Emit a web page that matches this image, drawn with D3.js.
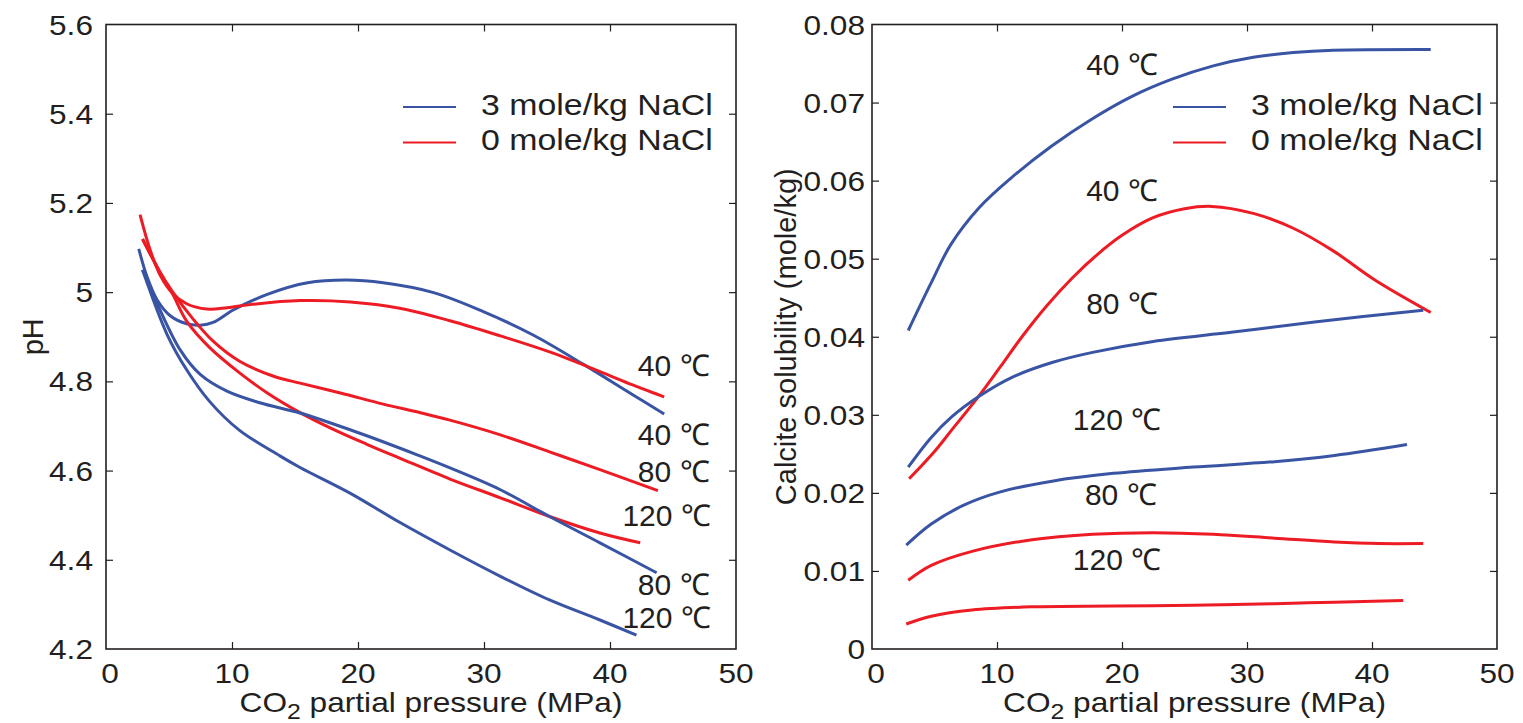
<!DOCTYPE html>
<html>
<head>
<meta charset="utf-8">
<script src="https://cdn.jsdelivr.net/npm/d3@7"></script>
<style>
  body { margin: 0; background: #fff; }
  text { font-family: "Liberation Sans", Arial, Helvetica, sans-serif; fill: #231f20; }
</style>
</head>
<body>
<div id="vis"></div>
<script>
// ---- data: [CO2 pressure (MPa), value] ----
// left panel: pH
const phBlue40 = [[2.6,5.097],[3.25,5.035],[4.05,4.983],[5.1,4.947],[6.4,4.929],[7.5,4.926],[8.5,4.932],[10.1,4.96],[12.8,4.995],[16,5.021],[19.1,5.027],[22,5.021],[26,4.999],[29.9,4.957],[33.9,4.904],[37.9,4.838],[41.8,4.77],[44.3,4.727]];
const phRed40 = [[2.7,5.174],[3.5,5.095],[4.3,5.038],[5.3,4.997],[6.4,4.974],[8,4.962],[9.6,4.965],[11.4,4.972],[15.4,4.981],[19.4,4.978],[23.3,4.964],[27.3,4.936],[31.3,4.902],[35.2,4.866],[39.2,4.822],[41.8,4.792],[44.3,4.765]];
const phRed80 = [[2.9,5.119],[4.3,5.044],[5.3,5.0],[6.9,4.94],[8.5,4.89],[10.6,4.845],[13.25,4.812],[15.4,4.796],[18.6,4.774],[22,4.749],[24.9,4.73],[27.3,4.713],[31.3,4.68],[35.2,4.642],[39.2,4.602],[43.8,4.555]];
const phRed120 = [[2.9,5.119],[4.3,5.044],[5.3,4.995],[6.4,4.935],[8.25,4.875],[10.6,4.819],[12.8,4.774],[15.4,4.73],[18,4.693],[20.7,4.659],[23.3,4.628],[27.3,4.581],[31.3,4.539],[35.2,4.497],[39.2,4.46],[42.4,4.438]];
const phBlue80 = [[2.9,5.05],[4.05,4.975],[5.9,4.87],[7.5,4.815],[9.6,4.778],[12.2,4.752],[15.4,4.729],[18,4.705],[20.7,4.678],[24.9,4.633],[27.3,4.606],[31.3,4.557],[35.2,4.497],[39.2,4.438],[43.7,4.371]];
const phBlue120 = [[2.9,5.05],[4.85,4.905],[6.4,4.826],[8.25,4.754],[10.6,4.69],[13.8,4.633],[15.4,4.607],[19.4,4.549],[23.3,4.484],[27.3,4.422],[31.3,4.363],[35.2,4.31],[39.2,4.265],[42.1,4.231]];

// right panel: calcite solubility (mole/kg)
const solBlue40 = [[2.9,0.0408],[4.7,0.0468],[6.3,0.0518],[8.55,0.0565],[11.1,0.0603],[14.35,0.0644],[17.6,0.0679],[20.8,0.0708],[24,0.073],[27.3,0.0747],[30.5,0.0758],[33.7,0.0764],[36.9,0.0767],[44.7,0.0768]];
const solRed40 = [[2.97,0.0218],[5,0.0253],[6.35,0.028],[8.45,0.0322],[10.2,0.036],[12,0.04],[14,0.044],[16,0.0475],[18,0.0505],[20,0.053],[22.4,0.0552],[25,0.0564],[27.2,0.0567],[30.5,0.0558],[33.7,0.0539],[36.9,0.051],[40.2,0.0473],[44.7,0.0431]];
const solBlue80 = [[2.9,0.0233],[4.74,0.0271],[6.35,0.0297],[8.6,0.0324],[11.2,0.0348],[14.4,0.0367],[17.65,0.038],[22.5,0.0394],[28.9,0.0406],[35.4,0.0419],[44.1,0.0434]];
const solBlue120 = [[2.74,0.0133],[4.74,0.016],[7.3,0.0184],[10.2,0.0201],[14.4,0.0215],[19.3,0.0225],[25.7,0.0233],[32.2,0.024],[37,0.0248],[42.8,0.0262]];
const solRed80 = [[2.9,0.0088],[4.74,0.0107],[8,0.0125],[12.8,0.014],[17.65,0.0147],[22.5,0.0149],[27.3,0.0147],[32.2,0.0142],[37,0.0137],[40.5,0.0135],[44.1,0.0135]];
const solRed120 = [[2.74,0.0032],[4.74,0.0042],[8,0.005],[12.8,0.0054],[19.3,0.0055],[25.7,0.0056],[32.2,0.0058],[37,0.006],[42.5,0.0062]];

const xTicks = [0, 10, 20, 30, 40, 50];
const phTicks = [4.2, 4.4, 4.6, 4.8, 5, 5.2, 5.4, 5.6];
const solTicks = [0, 0.01, 0.02, 0.03, 0.04, 0.05, 0.06, 0.07, 0.08];
const legendLabels = ["3 mole/kg NaCl", "0 mole/kg NaCl"];

// temperature labels: [text, pressure, value]
const phLabels = [["40 ℃",47.9,4.8125],["40 ℃",47.9,4.6577],["80 ℃",47.9,4.5747],["120 ℃",48,4.476],["80 ℃",47.9,4.32],["120 ℃",48,4.2475]];
const solLabels = [["40 ℃",20,0.0735],["40 ℃",20,0.0574],["80 ℃",20,0.0429],["120 ℃",19.6,0.028],["80 ℃",19.9,0.01845],["120 ℃",19.6,0.0101]];

const BLUE = "#3a54a4", RED = "#ed1c24", INK = "#231f20";
const STRETCH = 1.13; // the figure's lettering is a little wider than Helvetica

const svg = d3.select("#vis").append("svg")
  .attr("width", 1523)
  .attr("height", 723);

// place a text with a small horizontal stretch
const at = (x, y) => `translate(${x},${y}) scale(${STRETCH},1)`;

function panel(opts) {
  const { left, right, top, bottom } = opts;
  const x = d3.scaleLinear().domain([0, 50]).range([left, right]);
  const y = d3.scaleLinear().domain(opts.yDomain).range([bottom, top]);
  const g = svg.append("g");

  // inward ticks on all four sides
  const tk = 7;
  g.append("g").attr("transform", `translate(0,${bottom})`)
    .call(d3.axisBottom(x).tickValues(xTicks.slice(1, -1)).tickSizeInner(-tk).tickSizeOuter(0).tickFormat(""));
  g.append("g").attr("transform", `translate(0,${top})`)
    .call(d3.axisTop(x).tickValues(xTicks.slice(1, -1)).tickSizeInner(-tk).tickSizeOuter(0).tickFormat(""));
  g.append("g").attr("transform", `translate(${left},0)`)
    .call(d3.axisLeft(y).tickValues(opts.yTicks.slice(1, -1)).tickSizeInner(-tk).tickSizeOuter(0).tickFormat(""));
  g.append("g").attr("transform", `translate(${right},0)`)
    .call(d3.axisRight(y).tickValues(opts.yTicks.slice(1, -1)).tickSizeInner(-tk).tickSizeOuter(0).tickFormat(""));
  g.selectAll(".domain").remove();
  g.selectAll(".tick line").attr("stroke", INK).attr("stroke-width", 1.2);

  g.append("rect")
    .attr("x", left).attr("y", top)
    .attr("width", right - left).attr("height", bottom - top)
    .attr("fill", "none").attr("stroke", INK).attr("stroke-width", 1.6);

  // tick labels
  g.selectAll(".xl").data(xTicks).join("text")
    .attr("transform", d => at(x(d) + (d === 0 ? 4 : 0), bottom + 34))
    .attr("text-anchor", "middle")
    .attr("font-size", 28)
    .text(d => d);
  g.selectAll(".yl").data(opts.yTicks).join("text")
    .attr("transform", d => at(left - opts.yLabelGap, y(d) + 10))
    .attr("text-anchor", "end")
    .attr("font-size", 28)
    .text(d => d === 0 ? "0" : (d === 5 ? "5" : opts.fmt(d)));

  // axis titles
  const xt = g.append("text")
    .attr("transform", at((left + right) / 2 + 10, bottom + 63))
    .attr("text-anchor", "middle")
    .attr("font-size", 28);
  xt.append("tspan").text("CO");
  xt.append("tspan").attr("font-size", 22).attr("dy", 7).text("2");
  xt.append("tspan").attr("dy", -7).text(" partial pressure (MPa)");

  g.append("text")
    .attr("transform", `translate(${opts.yTitleX},${(top + bottom) / 2}) rotate(-90)`)
    .attr("text-anchor", "middle")
    .attr("font-size", 29)
    .text(opts.yTitle);

  // curves
  const line = d3.line()
    .x(d => x(d[0]))
    .y(d => y(d[1]))
    .curve(d3.curveCatmullRom.alpha(0.5));
  g.selectAll(".curve").data(opts.series).join("path")
    .attr("fill", "none")
    .attr("stroke", d => d.color)
    .attr("stroke-width", 3)
    .attr("d", d => line(d.values));

  // temperature labels
  g.selectAll(".tl").data(opts.labels).join("text")
    .attr("x", d => x(d[1]))
    .attr("y", d => y(d[2]))
    .attr("text-anchor", opts.labelAnchor)
    .attr("font-size", 30)
    .text(d => d[0]);

  // legend
  const lg = g.append("g");
  [BLUE, RED].forEach((c, i) => {
    const ly = opts.legendY + i * 35.5;
    lg.append("line")
      .attr("x1", opts.legendX).attr("x2", opts.legendX + 53)
      .attr("y1", ly).attr("y2", ly)
      .attr("stroke", c).attr("stroke-width", 2.2);
    lg.append("text")
      .attr("transform", at(opts.legendX + 78, ly + 7.5))
      .attr("font-size", 30)
      .text(legendLabels[i]);
  });
}

panel({
  left: 106, right: 736, top: 24.5, bottom: 649,
  yDomain: [4.2, 5.6], yTicks: phTicks, fmt: d3.format(".1f"), yLabelGap: 13,
  yTitle: "pH", yTitleX: 43,
  series: [
    { color: BLUE, values: phBlue40 }, { color: RED, values: phRed40 },
    { color: RED, values: phRed80 }, { color: RED, values: phRed120 },
    { color: BLUE, values: phBlue80 }, { color: BLUE, values: phBlue120 }
  ],
  labels: phLabels, labelAnchor: "end",
  legendX: 403, legendY: 107
});

panel({
  left: 872, right: 1497, top: 24.5, bottom: 649,
  yDomain: [0, 0.08], yTicks: solTicks, fmt: d3.format(".2f"), yLabelGap: 7,
  yTitle: "Calcite solubility (mole/kg)", yTitleX: 796,
  series: [
    { color: BLUE, values: solBlue40 }, { color: RED, values: solRed40 },
    { color: BLUE, values: solBlue80 }, { color: BLUE, values: solBlue120 },
    { color: RED, values: solRed80 }, { color: RED, values: solRed120 }
  ],
  labels: solLabels, labelAnchor: "middle",
  legendX: 1173, legendY: 107
});
</script>
</body>
</html>
